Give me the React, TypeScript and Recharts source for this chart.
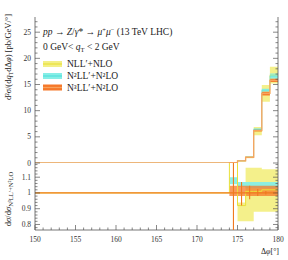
import React from 'react';
import { ComposedChart, Area, Line, Scatter, ErrorBar, XAxis, YAxis } from 'recharts';

// bin edges in delta phi [deg]; one value per bin below, the last edge closes the histogram
const binEdges = [150, 174, 175, 176, 177, 178, 179, 180];

// upper panel: d2sigma/(dqT dphi) [pb/GeV/deg]
const nllCentral = [0, 0.08, 0.37, 1.12, 6.1, 13.3, 16.8];
const nllLow = [0, 0.05, 0.3, 0.92, 5.3, 11.7, 15.2];
const nllHigh = [0, 0.11, 0.45, 1.3, 6.9, 14.9, 18.4];
const n2llCentral = [0, 0.06, 0.42, 1.16, 6.45, 13.9, 16.6];
const n2llLow = [0, 0.05, 0.4, 1.12, 6.3, 13.6, 16.1];
const n2llHigh = [0, 0.07, 0.44, 1.2, 6.6, 14.2, 17.1];
const n3llCentral = [0, 0.05, 0.4, 1.1, 6.2, 13.3, 15.8];
const n3llLow = [0, 0.05, 0.38, 1.06, 6.0, 12.9, 15.5];
const n3llHigh = [0, 0.06, 0.42, 1.14, 6.4, 13.6, 16.1];

// lower panel: ratio to N3LL'+N2LO
const nllRatio = [1, 1.5, 0.92, 1.01, 1.01, 1.02, 1.02];
const nllRatioLow = [1, 1.3, 0.82, 0.82, 0.88, 0.88, 0.88];
const nllRatioHigh = [1, 1.7, 0.94, 1.16, 1.16, 1.15, 1.15];
const n2llRatioLow = [1, 1.055, 1.04, 1.03, 1.03, 1.03, 1.03];
const n2llRatioHigh = [1, 1.1, 1.07, 1.07, 1.07, 1.07, 1.07];
const n3llRatio = [1, 1, 1, 1, 1, 1, 1];
const n3llRatioLow = [1, 0.98, 0.98, 0.98, 0.98, 0.98, 0.98];
const n3llRatioHigh = [1, 1.045, 1.045, 1.045, 1.045, 1.045, 1.045];
const n3llErrLow = [null, 0.4, 0.92, 0.96, 0.98, 0.99, 0.995];
const n3llErrHigh = [null, 1.6, 1.07, 1.045, 1.025, 1.012, 1.005];

const xMajor = [150, 155, 160, 165, 170, 175, 180];
const topYMajor = [0, 5, 10, 15, 20, 25];
const ratioYMajor = [0.8, 0.9, 1, 1.1];

const range = (from: number, to: number, step: number) => {
  const out: number[] = [];
  for (let v = from; v <= to + 1e-9; v += step) out.push(+v.toFixed(3));
  return out;
};
const xTicks = range(150, 180, 1);
const topYTicks = range(0, 27, 1);
const ratioYTicks = range(0.78, 1.18, 0.02);

const isMajor = (list: number[], v: number) => list.some((m) => Math.abs(m - v) < 1e-6);
const pick = (arr: any[], i: number) => arr[Math.min(i, arr.length - 1)];

const topData = binEdges.map((x, i) => ({
  x,
  nll: pick(nllCentral, i),
  nllBand: [pick(nllLow, i), pick(nllHigh, i)],
  n2ll: pick(n2llCentral, i),
  n2llBand: [pick(n2llLow, i), pick(n2llHigh, i)],
  n3ll: pick(n3llCentral, i),
  n3llBand: [pick(n3llLow, i), pick(n3llHigh, i)],
}));

const ratioData = binEdges.map((x, i) => ({
  x,
  nll: pick(nllRatio, i),
  nllBand: [pick(nllRatioLow, i), pick(nllRatioHigh, i)],
  n2llBand: [pick(n2llRatioLow, i), pick(n2llRatioHigh, i)],
  n3ll: pick(n3llRatio, i),
  n3llBand: [pick(n3llRatioLow, i), pick(n3llRatioHigh, i)],
}));

const errData = n3llRatio
  .map((r, i) => ({
    x: (binEdges[i] + binEdges[i + 1]) / 2,
    y: r,
    err: n3llErrLow[i] == null ? null : [r - (n3llErrLow[i] as number), (n3llErrHigh[i] as number) - r],
  }))
  .filter((d) => d.err != null);

const FONT = "'Liberation Serif', 'DejaVu Serif', serif";
const AXIS = '#555';
const YELLOW_BAND = '#f3ef85';
const YELLOW_LINE = '#e9e03a';
const CYAN_BAND = '#86eee6';
const CYAN_LINE = '#52e0dc';
const ORANGE_BAND = '#f5782a';
const ORANGE_LINE = '#f7a35e';
const ORANGE = '#f07a1e';

const MAJ = 5;
const MIN = 2.5;

// inward ticks, drawn by hand so they point into the frame
const bottomTick = (labels: boolean) => (p: any) => {
  const v = p.payload.value;
  const major = isMajor(xMajor, v);
  return (
    <g>
      <line x1={p.x} x2={p.x} y1={p.y} y2={p.y - (major ? MAJ : MIN)} stroke={AXIS} strokeWidth={0.7} />
      {labels && major && (
        <text x={p.x} y={p.y + 12} textAnchor="middle" fontSize={7.5} fontFamily={FONT} fill="#333">
          {v}
        </text>
      )}
    </g>
  );
};
const topTick = (p: any) => {
  const major = isMajor(xMajor, p.payload.value);
  return <line x1={p.x} x2={p.x} y1={p.y} y2={p.y + (major ? MAJ : MIN)} stroke={AXIS} strokeWidth={0.7} />;
};
const leftTick = (majors: number[]) => (p: any) => {
  const v = p.payload.value;
  const major = isMajor(majors, v);
  return (
    <g>
      <line x1={p.x} x2={p.x + (major ? MAJ : MIN)} y1={p.y} y2={p.y} stroke={AXIS} strokeWidth={0.7} />
      {major && (
        <text x={p.x - 4} y={p.y + 2.5} textAnchor="end" fontSize={7.5} fontFamily={FONT} fill="#333">
          {v}
        </text>
      )}
    </g>
  );
};
const rightTick = (majors: number[]) => (p: any) => {
  const major = isMajor(majors, p.payload.value);
  return <line x1={p.x} x2={p.x - (major ? MAJ : MIN)} y1={p.y} y2={p.y} stroke={AXIS} strokeWidth={0.7} />;
};

const axisCommon = {
  tickLine: false,
  tickSize: 0,
  tickMargin: 0,
  interval: 0 as const,
  axisLine: { stroke: AXIS, strokeWidth: 0.8 },
};

function LegendRow({ y, band, line, children }: { y: number; band: string; line: string; children: React.ReactNode }) {
  return (
    <g>
      <rect x={43} y={y - 3} width={19} height={6} fill={band} />
      <line x1={43} x2={62} y1={y} y2={y} stroke={line} strokeWidth={1.2} />
      <text x={67} y={y + 3} fontSize={9.5} fontFamily={FONT} fill="#222">
        {children}
      </text>
    </g>
  );
}

export default function App() {
  const topDomain: [number, number] = [0, 27.9];
  const ratioDomain: [number, number] = [0.765, 1.19];
  return (
    <div style={{ position: 'absolute', left: 0, top: 0, width: 288, height: 260, background: '#fff' }}>
      <div style={{ position: 'absolute', left: 0, top: 0 }}>
        <ComposedChart width={288} height={170} data={topData} margin={{ top: 17, right: 0, bottom: 7, left: 0 }}>
          <XAxis dataKey="x" type="number" domain={[150, 180]} ticks={xTicks} height={0} tick={bottomTick(false)} {...axisCommon} />
          <XAxis xAxisId="top" orientation="top" type="number" domain={[150, 180]} allowDataOverflow ticks={xTicks} height={0} tick={topTick} {...axisCommon} />
          <YAxis type="number" domain={topDomain} allowDataOverflow ticks={topYTicks} width={35} tick={leftTick(topYMajor)} {...axisCommon} />
          <YAxis yAxisId="right" orientation="right" type="number" domain={topDomain} allowDataOverflow ticks={topYTicks} width={10} tick={rightTick(topYMajor)} {...axisCommon} />
          <Area type="stepAfter" dataKey="nllBand" stroke="none" fill={YELLOW_BAND} fillOpacity={0.95} isAnimationActive={false} dot={false} activeDot={false} />
          <Area type="stepAfter" dataKey="n2llBand" stroke="none" fill={CYAN_BAND} fillOpacity={0.95} isAnimationActive={false} dot={false} activeDot={false} />
          <Area type="stepAfter" dataKey="n3llBand" stroke="none" fill={ORANGE_BAND} fillOpacity={0.95} isAnimationActive={false} dot={false} activeDot={false} />
          <Line type="stepAfter" dataKey="nll" stroke={YELLOW_LINE} strokeOpacity={0.5} strokeWidth={1} dot={false} isAnimationActive={false} />
          <Line type="stepAfter" dataKey="n2ll" stroke={CYAN_LINE} strokeOpacity={0.5} strokeWidth={1} dot={false} isAnimationActive={false} />
          <Line type="stepAfter" dataKey="n3ll" stroke={ORANGE_LINE} strokeWidth={1.3} dot={false} isAnimationActive={false} />
        </ComposedChart>
      </div>
      <div style={{ position: 'absolute', left: 0, top: 163 }}>
        <ComposedChart width={288} height={97} data={ratioData} margin={{ top: 0, right: 0, bottom: 0, left: 0 }}>
          <XAxis dataKey="x" type="number" domain={[150, 180]} allowDataOverflow ticks={xTicks} height={30} tick={bottomTick(true)} {...axisCommon} />
          <XAxis xAxisId="top" orientation="top" type="number" domain={[150, 180]} allowDataOverflow ticks={xTicks} height={0} tick={topTick} {...axisCommon} />
          <YAxis type="number" domain={ratioDomain} allowDataOverflow ticks={ratioYTicks} width={35} tick={leftTick(ratioYMajor)} {...axisCommon} />
          <YAxis yAxisId="right" orientation="right" type="number" domain={ratioDomain} allowDataOverflow ticks={ratioYTicks} width={10} tick={rightTick(ratioYMajor)} {...axisCommon} />
          <Area type="stepAfter" dataKey="nllBand" stroke="none" fill={YELLOW_BAND} fillOpacity={0.95} isAnimationActive={false} dot={false} activeDot={false} />
          <Line type="stepAfter" dataKey="nll" stroke={YELLOW_LINE} strokeWidth={1} dot={false} isAnimationActive={false} />
          <Area type="stepAfter" dataKey="n2llBand" stroke="none" fill={CYAN_BAND} fillOpacity={0.95} isAnimationActive={false} dot={false} activeDot={false} />
          <Area type="stepAfter" dataKey="n3llBand" stroke="none" fill={ORANGE_BAND} fillOpacity={0.75} isAnimationActive={false} dot={false} activeDot={false} />
          <Line type="stepAfter" dataKey="n3ll" stroke={ORANGE} strokeWidth={1.2} dot={false} isAnimationActive={false} />
        </ComposedChart>
      </div>
      {/* error bars in their own chart, sized to the ratio plot area so they clip at the frame */}
      <div style={{ position: 'absolute', left: 0, top: 163 }}>
        <ComposedChart width={288} height={67} data={ratioData} margin={{ top: 0, right: 10, bottom: 0, left: 35 }}>
          <XAxis dataKey="x" type="number" domain={[150, 180]} allowDataOverflow hide />
          <YAxis type="number" domain={ratioDomain} allowDataOverflow hide />
          <Scatter data={errData} dataKey="y" shape={() => <g />} isAnimationActive={false}>
            <ErrorBar dataKey="err" direction="y" width={0} stroke={ORANGE} strokeWidth={1.1} isAnimationActive={false} />
          </Scatter>
        </ComposedChart>
      </div>
      <svg width={288} height={260} style={{ position: 'absolute', left: 0, top: 0, pointerEvents: 'none' }}>
        <text x={43} y={35} fontSize={9.5} fontFamily={FONT} fill="#222">
          <tspan fontStyle="italic">pp</tspan> → <tspan fontStyle="italic">Z</tspan>/<tspan fontStyle="italic">γ</tspan>* →{' '}
          <tspan fontStyle="italic">μ</tspan>
          <tspan fontSize={6.5} dy={-3}>+</tspan>
          <tspan fontStyle="italic" dy={3}>μ</tspan>
          <tspan fontSize={6.5} dy={-3}>−</tspan>
          <tspan dy={3}> (13 TeV LHC)</tspan>
        </text>
        <text x={43} y={50} fontSize={9.5} fontFamily={FONT} fill="#222">
          0 GeV&lt; <tspan fontStyle="italic">q</tspan>
          <tspan fontSize={6.5} dy={2}>T</tspan>
          <tspan dy={-2}> &lt; 2 GeV</tspan>
        </text>
        <LegendRow y={64} band={YELLOW_BAND} line={YELLOW_LINE}>NLL′+NLO</LegendRow>
        <LegendRow y={76} band={CYAN_BAND} line={CYAN_LINE}>N²LL′+N²LO</LegendRow>
        <LegendRow y={87.5} band={ORANGE_BAND} line={ORANGE_LINE}>N³LL′+N²LO</LegendRow>
        <text transform="translate(11, 57) rotate(-90)" textAnchor="middle" fontSize={8.5} fontFamily={FONT} fill="#222">
          d²<tspan fontStyle="italic">σ</tspan>/(d<tspan fontStyle="italic">q</tspan>
          <tspan fontSize={6} dy={1.5}>T</tspan>
          <tspan dy={-1.5}>dΔ</tspan>
          <tspan fontStyle="italic">φ</tspan>) [pb/GeV/°]
        </text>
        <text transform="translate(11, 199) rotate(-90)" textAnchor="middle" fontSize={8.5} fontFamily={FONT} fill="#222">
          d<tspan fontStyle="italic">σ</tspan>/d<tspan fontStyle="italic">σ</tspan>
          <tspan fontSize={6.5} dy={1.8}>N³LL′+N²LO</tspan>
        </text>
        <text x={279} y={254} textAnchor="end" fontSize={8} fontFamily={FONT} fill="#222">
          Δ<tspan fontStyle="italic">φ</tspan>[°]
        </text>
      </svg>
    </div>
  );
}
